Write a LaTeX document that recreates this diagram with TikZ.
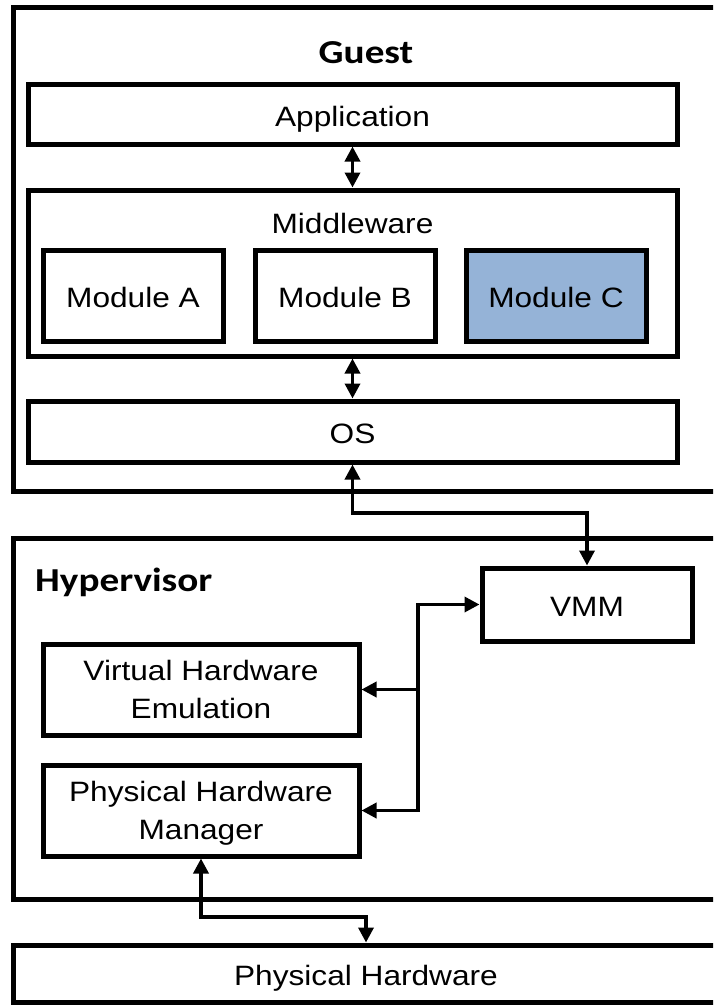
\documentclass[tikz,border=0pt]{standalone}
\usepackage{fontspec}
\setmainfont{Liberation Sans}[FakeStretch=1.13]
\newfontfamily\headfont{Carlito}[FakeStretch=1.17]
\usetikzlibrary{arrows.meta}

\newcommand\bodysize{\fontsize{28}{38}\selectfont}
\newcommand\headsize{\headfont\bfseries\fontsize{33.5}{40}\selectfont}

\tikzset{
  frame/.style={draw, line width=5pt, inner sep=0pt},
  box/.style={frame, fill=white, font=\bodysize, text height=24pt, text depth=0pt},
  twoline/.style={frame, fill=white, font=\bodysize, align=center},
  module/.style={box, minimum width=180pt, minimum height=91pt},
  title/.style={inner sep=0pt, font=\headsize},
  caption/.style={inner sep=0pt, font=\bodysize},
  tip/.tip={Triangle[length=15pt, width=15pt]},
  link/.style={line width=3.5pt, -tip},
  bilink/.style={line width=3.5pt, tip-tip}
}

\begin{document}
\begin{tikzpicture}[x=1pt, y=-1pt]
\useasboundingbox (0,0) rectangle (713,1005);
\clip (0,0) rectangle (713,1005);

% Guest layer
\node[frame, minimum width=706pt, minimum height=484pt] (guest) at (366,249) {};
\node[title, anchor=base] (guesttitle) at (366,63) {Guest};
\node[box, minimum width=649pt, minimum height=60pt] (app) at (352.5,114) {Application};
\node[frame, minimum width=649pt, minimum height=166pt] (mid) at (352.5,273) {};
\node[caption, anchor=base] (midtitle) at (352.5,233) {Middleware};
\node[module] (moda) at (133,295.5) {Module A};
\node[module] (modb) at (345,295.5) {Module B};
\node[module, fill={rgb,255:red,149;green,179;blue,215}] (modc) at (556,295.5) {Module C};
\node[box, minimum width=649pt, minimum height=61pt] (os) at (352.5,431.5) {OS};

% Hypervisor layer
\node[frame, minimum width=706pt, minimum height=361pt] (hyp) at (366,718.5) {};
\node[title, anchor=base west] (hyptitle) at (35,591) {Hypervisor};
\node[box, minimum width=210pt, minimum height=73pt] (vmm) at (587,604.5) {VMM};
\node[twoline, minimum width=316pt, minimum height=91pt] (vhe) at (201,689.5) {Virtual Hardware\\Emulation};
\node[twoline, minimum width=316pt, minimum height=91pt] (phm) at (201,810.5) {Physical Hardware\\Mana\smash{g}er};

% Hardware layer
\node[box, minimum width=706pt, minimum height=57pt] (ph) at (366,973.5) {Physical Hardware};

% Connectors
\draw[bilink] (app) -- (mid);
\draw[bilink] (mid) -- (os);

\coordinate (osbend) at (352.5,513);
\draw[bilink] (os.south) -- (osbend) -| (vmm.north);

\coordinate (busv) at (418,689.5);
\coordinate (busp) at (418,810.5);
\draw[bilink] (phm.east) -- (busp) |- (vmm.west);
\draw[link] (busv) -- (vhe.east);

\coordinate (phbend) at (201,917);
\draw[bilink] (phm.south) -- (phbend) -| (ph.north);
\end{tikzpicture}
\end{document}
